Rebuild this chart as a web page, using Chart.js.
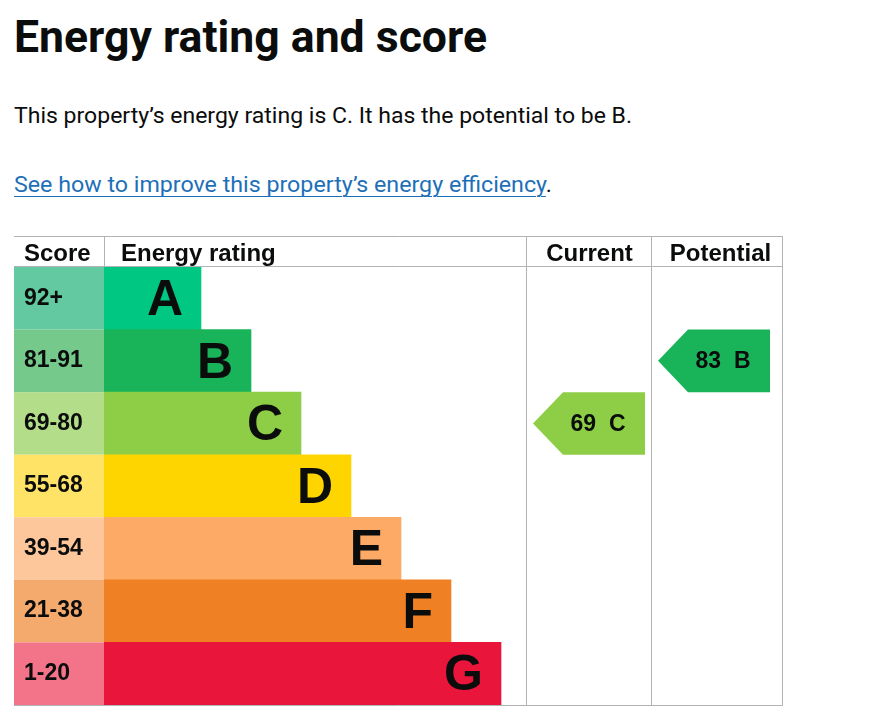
<!DOCTYPE html>
<html>
<head>
<meta charset="utf-8">
<title>Energy rating and score</title>
<script src="https://cdn.jsdelivr.net/npm/chart.js@4"></script>
<style>
  body { margin: 0; background: #fff; color: #0b0c0c; font-family: Roboto, "Liberation Sans", sans-serif; }
  .line { position: absolute; left: 14px; white-space: nowrap; line-height: 1; transform-origin: 0 0; }
  #title { top: 15px; font-size: 44px; font-weight: 700; }
  #intro { top: 105px; font-size: 22px; }
  #more { top: 174px; font-size: 22px; }
  #more a { color: #1d70b8; text-decoration: underline; text-decoration-thickness: 1px; text-underline-offset: 4px; }
  #chartBox { position: absolute; left: 0; top: 230px; width: 894px; height: 496px; }
</style>
</head>
<body>
<h1 class="line" id="title" style="margin:0">Energy rating and score</h1>
<p class="line" id="intro" style="margin:0">This property’s energy rating is C. It has the potential to be B.</p>
<p class="line" id="more" style="margin:0"><a href="#">See how to improve this property’s energy efficiency</a>.</p>
<div id="chartBox"><canvas id="epcChart"></canvas></div>

<script>
// ----------------------
// Data
// ----------------------
const ratings = ['A', 'B', 'C', 'D', 'E', 'F', 'G'];
const scoreBands = ['92+', '81-91', '69-80', '55-68', '39-54', '21-38', '1-20'];
const bandMinScores = [92, 81, 69, 55, 39, 21, 1];
const barLengths = [2, 3, 4, 5, 6, 7, 8];
const currentScore = 69;
const potentialScore = 83;
const headers = ['Score', 'Energy rating', 'Current', 'Potential'];

const ratingColours = ['#00c781', '#19b459', '#8dce46', '#ffd500', '#fcaa65', '#ef8023', '#e9153b'];
const scoreColours = ['#62c9a1', '#74c98b', '#b3dd88', '#ffe366', '#fdc79b', '#f4a96d', '#f37389'];

// layout bits (px)
const SCORE_W = 90;
const HEADER_H = 31;
const CURRENT_W = 125;
const POTENTIAL_W = 131;
const X_MIN = 0.06;
const GRID = '#b1b4b6';
const FONT = '"Liberation Sans", Arial, sans-serif';

function bandFor(score) {
  const i = bandMinScores.findIndex(min => score >= min);
  return i === -1 ? ratings.length - 1 : i;
}

// squeeze the page text to the widths of the original
function fitWidth(id, target) {
  const el = document.getElementById(id);
  const w = el.getBoundingClientRect().width;
  el.style.transform = `scaleX(${target / w})`;
}

// ----------------------
// Table drawing plugin
// ----------------------
const epcTable = {
  id: 'epcTable',
  beforeDatasetsDraw(chart) {
    const { ctx, chartArea: a, scales: { y } } = chart;
    const rowH = (a.bottom - a.top) / ratings.length;
    const left = a.left - SCORE_W;
    const curL = a.right, potL = a.right + CURRENT_W, right = potL + POTENTIAL_W;
    const top = a.top - HEADER_H;

    ctx.save();
    // score cells
    scoreBands.forEach((label, i) => {
      const yc = y.getPixelForValue(i);
      ctx.fillStyle = scoreColours[i];
      ctx.fillRect(left, yc - rowH / 2, SCORE_W, rowH);
      ctx.fillStyle = '#0b0c0c';
      ctx.font = `bold 23px ${FONT}`;
      ctx.textAlign = 'left';
      ctx.textBaseline = 'middle';
      ctx.fillText(label, left + 10, yc);
    });

    // grid lines
    ctx.strokeStyle = GRID;
    ctx.lineWidth = 1;
    ctx.beginPath();
    ctx.moveTo(left, top + 0.5); ctx.lineTo(right + 0.5, top + 0.5);
    ctx.moveTo(left, a.top - 0.5); ctx.lineTo(right + 0.5, a.top - 0.5);
    ctx.moveTo(left, a.bottom + 0.5); ctx.lineTo(right + 0.5, a.bottom + 0.5);
    ctx.moveTo(a.left + 0.5, top); ctx.lineTo(a.left + 0.5, a.top);
    [curL, potL, right].forEach(x => {
      ctx.moveTo(x + 0.5, top); ctx.lineTo(x + 0.5, a.bottom + 1);
    });
    ctx.stroke();

    // headers
    ctx.fillStyle = '#0b0c0c';
    ctx.font = `bold 24px ${FONT}`;
    ctx.textBaseline = 'middle';
    const hy = top + HEADER_H / 2 + 2.5;
    ctx.textAlign = 'left';
    ctx.fillText(headers[0], left + 10, hy);
    ctx.fillText(headers[1], a.left + 17, hy);
    ctx.textAlign = 'center';
    ctx.fillText(headers[2], curL + CURRENT_W / 2 + 1, hy);
    ctx.fillText(headers[3], potL + POTENTIAL_W / 2 + 4, hy);
    ctx.restore();
  },
  afterDatasetsDraw(chart) {
    const { ctx, chartArea: a, scales: { y } } = chart;
    const rowH = (a.bottom - a.top) / ratings.length;
    const bars = chart.getDatasetMeta(0).data;

    ctx.save();
    // big letters at the end of each bar
    ctx.fillStyle = '#0b0c0c';
    ctx.font = `bold 50px ${FONT}`;
    ctx.textAlign = 'right';
    ctx.textBaseline = 'middle';
    bars.forEach((bar, i) => ctx.fillText(ratings[i], bar.x - 18, bar.y + 3));

    // current / potential arrows
    const arrow = (score, colL) => {
      const i = bandFor(score);
      const yc = y.getPixelForValue(i);
      const t = yc - rowH / 2, b = yc + rowH / 2;
      const tip = colL + 7, end = tip + 112, shoulder = tip + 30;
      ctx.fillStyle = ratingColours[i];
      ctx.beginPath();
      ctx.moveTo(tip, yc);
      ctx.lineTo(shoulder, t);
      ctx.lineTo(end, t);
      ctx.lineTo(end, b);
      ctx.lineTo(shoulder, b);
      ctx.closePath();
      ctx.fill();
      ctx.fillStyle = '#0b0c0c';
      ctx.font = `bold 23px ${FONT}`;
      ctx.textAlign = 'center';
      ctx.fillText(`${score}  ${ratings[i]}`, tip + 65, yc + 1);
    };
    arrow(currentScore, a.right);
    arrow(potentialScore, a.right + CURRENT_W);
    ctx.restore();
  }
};

// ----------------------
// Chart
// ----------------------
const chart = new Chart(document.getElementById('epcChart'), {
  type: 'bar',
  data: {
    labels: ratings,
    datasets: [{
      data: barLengths.map(v => [X_MIN, v]),
      backgroundColor: ratingColours,
      borderWidth: 0,
      barPercentage: 1,
      categoryPercentage: 1
    }]
  },
  options: {
    indexAxis: 'y',
    responsive: true,
    maintainAspectRatio: false,
    animation: false,
    layout: { padding: { left: 104, right: 368, top: 37, bottom: 21 } },
    plugins: { legend: { display: false }, tooltip: { enabled: false } },
    scales: {
      x: { type: 'linear', display: false, min: X_MIN, max: 8.5 },
      y: { type: 'category', display: false }
    }
  },
  plugins: [epcTable]
});

fitWidth('title', 473);
fitWidth('intro', 618);
fitWidth('more', 538);
</script>
</body>
</html>
